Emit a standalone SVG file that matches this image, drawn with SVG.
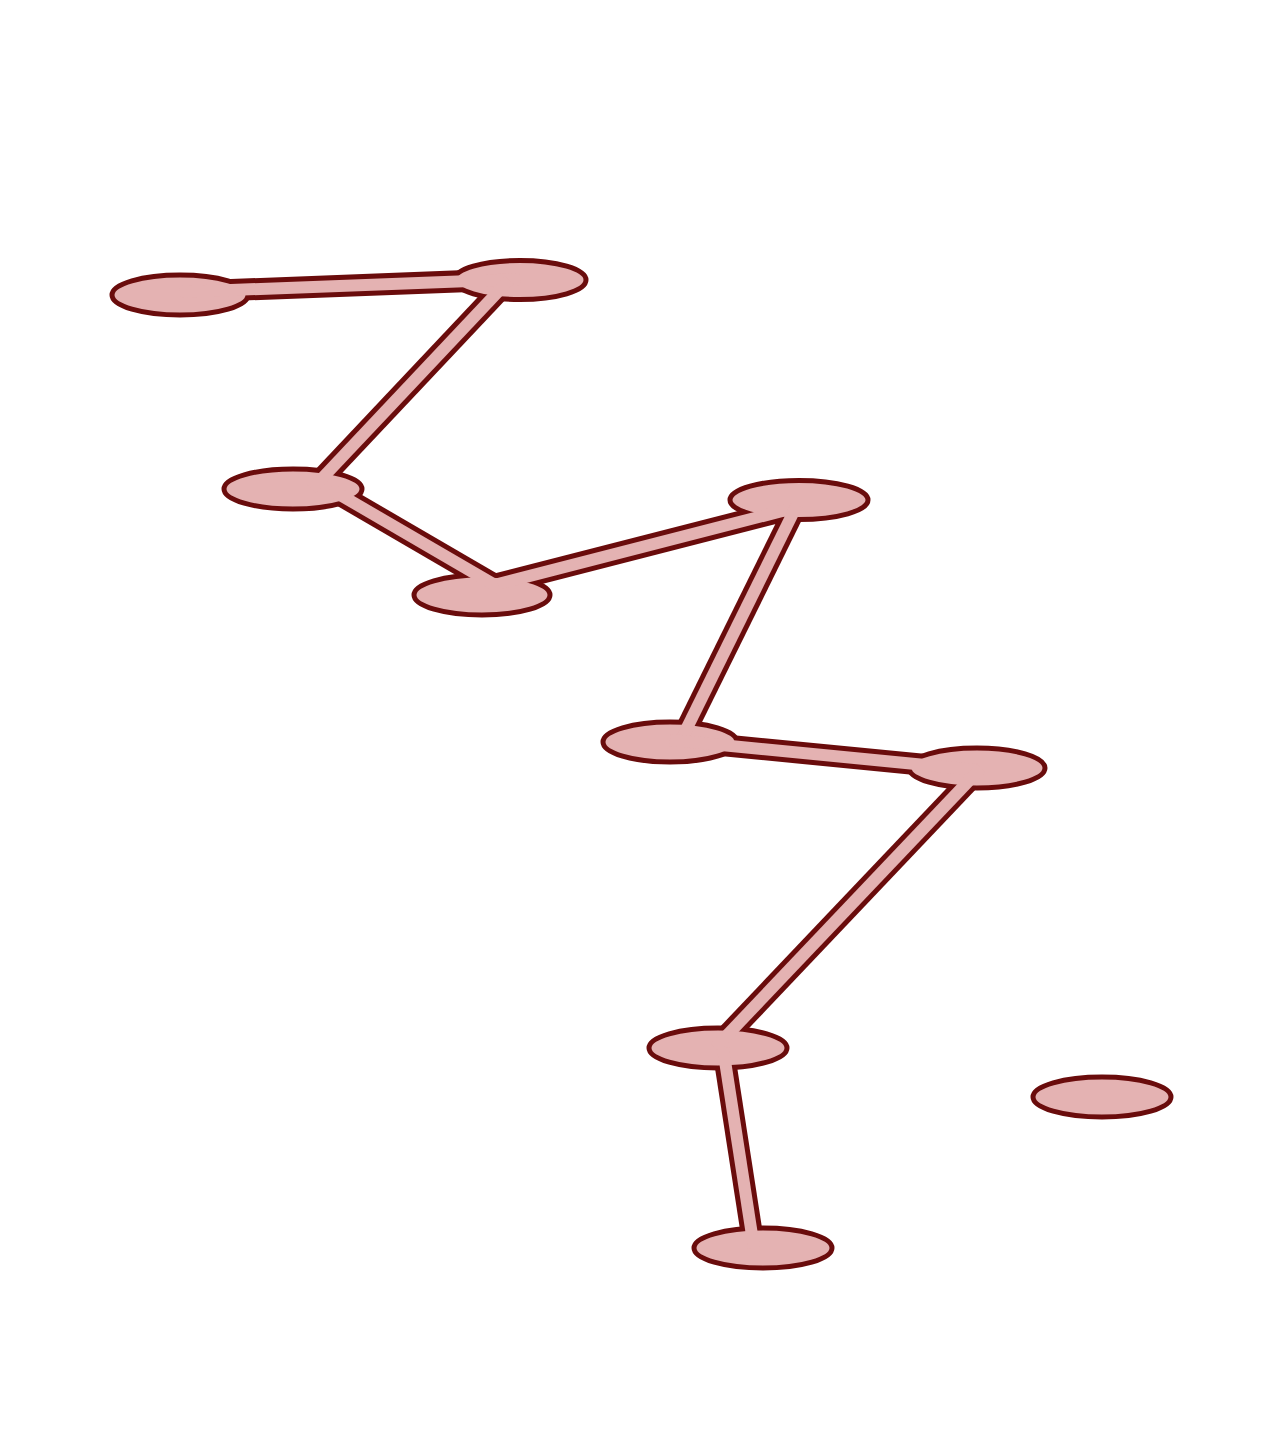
<svg xmlns="http://www.w3.org/2000/svg" width="1280" height="1440" viewBox="0 0 1280 1440">
<style>
.co{stroke:#6a0c0c;stroke-width:22;stroke-linecap:butt;fill:none}
.cf{stroke:#e4b2b2;stroke-width:12;stroke-linecap:butt;fill:none}
.n ellipse{fill:#e4b2b2;stroke:#6a0c0c;stroke-width:5}
</style>
<rect width="1280" height="1440" fill="#ffffff"/>
<g id="connectors-outline">
<line class="co" x1="180" y1="292" x2="520" y2="279"/>
<line class="co" x1="509" y1="280" x2="312" y2="489"/>
<line class="co" x1="330" y1="489" x2="500" y2="588"/>
<line class="co" x1="498" y1="584" x2="790" y2="509"/>
<line class="co" x1="797" y1="505" x2="680" y2="742"/>
<line class="co" x1="670" y1="740" x2="977" y2="770"/>
<line class="co" x1="981" y1="768" x2="715" y2="1048"/>
<line class="co" x1="723" y1="1048" x2="754" y2="1248"/>
</g>
<g id="node1" class="n"><ellipse cx="180" cy="295" rx="68" ry="20"/></g>
<g id="node2" class="n"><ellipse cx="520" cy="280" rx="66" ry="19.5"/></g>
<g id="node3" class="n"><ellipse cx="293" cy="489" rx="69" ry="20"/></g>
<g id="node4" class="n"><ellipse cx="482" cy="595" rx="68" ry="20"/></g>
<g id="node5" class="n"><ellipse cx="799" cy="500" rx="69" ry="19.5"/></g>
<g id="node6" class="n"><ellipse cx="670" cy="742" rx="67" ry="20"/></g>
<g id="node7" class="n"><ellipse cx="977" cy="768" rx="68" ry="20"/></g>
<g id="node8" class="n"><ellipse cx="718" cy="1048" rx="69" ry="20"/></g>
<g id="node9" class="n"><ellipse cx="763" cy="1248" rx="69" ry="20"/></g>
<g id="node10" class="n"><ellipse cx="1102" cy="1097" rx="69" ry="20"/></g>
<g id="connectors">
<line class="cf" x1="180" y1="292" x2="520" y2="279"/>
<line class="cf" x1="509" y1="280" x2="312" y2="489"/>
<line class="cf" x1="330" y1="489" x2="500" y2="588"/>
<line class="cf" x1="498" y1="584" x2="790" y2="509"/>
<line class="cf" x1="797" y1="505" x2="680" y2="742"/>
<line class="cf" x1="670" y1="740" x2="977" y2="770"/>
<line class="cf" x1="981" y1="768" x2="715" y2="1048"/>
<line class="cf" x1="723" y1="1048" x2="754" y2="1248"/>
</g>
</svg>
